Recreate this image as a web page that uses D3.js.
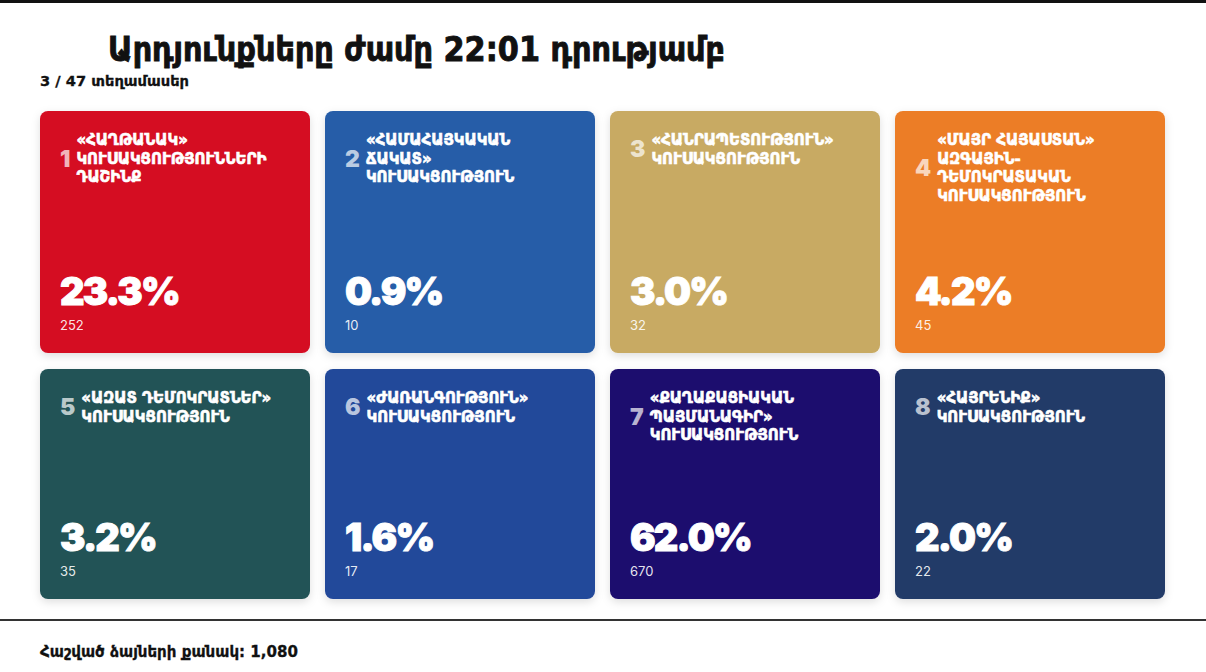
<html>
<head>
<meta charset="utf-8">
<script src="https://d3js.org/d3.v7.min.js"></script>
<style>
  body { margin: 0; background: #fff; }
  svg { display: block; }
</style>
</head>
<body>
<div id="chart"></div>
<script>
// ---- data ----
var headline = "Արդյունքները ժամը 22:01 դրությամբ"
var precinctsDone = 3
var precinctsAll = 47
var totalVotesLabel = "Հաշված ձայների քանակ:"
var totalVotes = 1080

var partyNumbers = [1, 2, 3, 4, 5, 6, 7, 8]
var partyNames = [
    ["«ՀԱՂԹԱՆԱԿ»", "ԿՈՒՍԱԿՑՈՒԹՅՈՒՆՆԵՐԻ", "ԴԱՇԻՆՔ"],
    ["«ՀԱՄԱՀԱՅԿԱԿԱՆ", "ՃԱԿԱՏ»", "ԿՈՒՍԱԿՑՈՒԹՅՈՒՆ"],
    ["«ՀԱՆՐԱՊԵՏՈՒԹՅՈՒՆ»", "ԿՈՒՍԱԿՑՈՒԹՅՈՒՆ"],
    ["«ՄԱՅՐ ՀԱՅԱՍՏԱՆ»", "ԱԶԳԱՅԻՆ-", "ԴԵՄՈԿՐԱՏԱԿԱՆ", "ԿՈՒՍԱԿՑՈՒԹՅՈՒՆ"],
    ["«ԱԶԱՏ ԴԵՄՈԿՐԱՏՆԵՐ»", "ԿՈՒՍԱԿՑՈՒԹՅՈՒՆ"],
    ["«ԺԱՌԱՆԳՈՒԹՅՈՒՆ»", "ԿՈՒՍԱԿՑՈՒԹՅՈՒՆ"],
    ["«ՔԱՂԱՔԱՑԻԱԿԱՆ", "ՊԱՅՄԱՆԱԳԻՐ»", "ԿՈՒՍԱԿՑՈՒԹՅՈՒՆ"],
    ["«ՀԱՅՐԵՆԻՔ»", "ԿՈՒՍԱԿՑՈՒԹՅՈՒՆ"]
]
var percents = [23.3, 0.9, 3.0, 4.2, 3.2, 1.6, 62.0, 2.0]
var votes = [252, 10, 32, 45, 35, 17, 670, 22]
var cardColors = ["#d50a24", "#285da8", "#c8aa63", "#ec7d26", "#235357", "#24489a", "#1e0b6e", "#213a68"]

// ---- layout ----
var W = 1206, H = 672
var armFont = "DejaVu Sans"
var svg = d3.select("#chart").append("svg")
    .attr("width", W)
    .attr("height", H)

var defs = svg.append("defs")
var shadow = defs.append("filter").attr("id", "shadow")
    .attr("x", "-10%").attr("y", "-10%").attr("width", "120%").attr("height", "125%")
shadow.append("feDropShadow")
    .attr("dx", 0).attr("dy", 3).attr("stdDeviation", 4)
    .attr("flood-color", "#000").attr("flood-opacity", 0.13)

var colScale = d3.scaleBand()
    .domain([0, 1, 2, 3])
    .range([40, 1165])
    .paddingInner(15 / 285)

var rowTop = d3.scaleOrdinal().domain([0, 1]).range([111, 369])
var rowBottom = d3.scaleOrdinal().domain([0, 1]).range([353, 599])

// top black strip
svg.append("rect")
    .attr("x", 0).attr("y", 0)
    .attr("width", W).attr("height", 3)
    .attr("fill", "#111")

// headline (condensed bold)
svg.append("text")
    .attr("x", 108).attr("y", 61)
    .attr("font-family", armFont)
    .attr("font-weight", 700)
    .attr("font-size", 33)
    .attr("textLength", 617)
    .attr("lengthAdjust", "spacingAndGlyphs")
    .attr("fill", "#111")
    .attr("stroke", "#111")
    .attr("stroke-width", 0.9)
    .text(headline)

svg.append("text")
    .attr("x", 40).attr("y", 86)
    .attr("font-family", armFont)
    .attr("font-weight", 700)
    .attr("font-size", 14)
    .attr("textLength", 149)
    .attr("lengthAdjust", "spacingAndGlyphs")
    .attr("fill", "#111")
    .attr("stroke", "#111")
    .attr("stroke-width", 0.3)
    .text(precinctsDone + " / " + precinctsAll + " տեղամասեր")

var cards = partyNumbers.map(function(n, i) {
    return { num: n, lines: partyNames[i], pct: percents[i], votes: votes[i], color: cardColors[i], col: i % 4, row: Math.floor(i / 4) }
})

var g = svg.selectAll("g.card")
    .data(cards)
    .enter()
    .append("g")
    .attr("class", "card")
    .attr("transform", function(d) {
        return "translate(" + colScale(d.col) + "," + rowTop(d.row) + ")"
    })

g.append("rect")
    .attr("width", colScale.bandwidth())
    .attr("height", function(d) { return rowBottom(d.row) - rowTop(d.row) })
    .attr("rx", 8)
    .attr("fill", function(d) { return d.color })
    .attr("filter", "url(#shadow)")

var lineH = 18.5
var firstBase = 34

g.each(function(d) {
    var card = d3.select(this)
    var numLabel = card.append("text")
        .attr("x", 20)
        .attr("y", firstBase - 10.7 + ((d.lines.length - 1) * lineH + 10.7) / 2 + 8.5)
        .attr("font-family", "Inter")
        .attr("font-weight", 900)
        .attr("font-size", 23)
        .attr("fill", "rgba(255,255,255,0.7)")
        .text(d.num)
    var numW = numLabel.node().getComputedTextLength()

    var tx = 20 + numW + 6
    var title = card.append("text")
        .attr("font-family", armFont)
        .attr("font-weight", 700)
        .attr("font-size", 15)
        .attr("fill", "#fff")
        .attr("stroke", "#fff")
        .attr("stroke-width", 0.6)
    title.selectAll("tspan")
        .data(d.lines)
        .enter()
        .append("tspan")
        .attr("x", tx)
        .attr("y", function(l, j) { return firstBase + j * lineH })
        .text(function(l) { return l })
    // keep long lines inside the card
    title.selectAll("tspan").each(function() {
        var room = colScale.bandwidth() - tx - 10
        if (this.getComputedTextLength() > room) {
            d3.select(this).attr("textLength", room).attr("lengthAdjust", "spacingAndGlyphs")
        }
    })

    var h = rowBottom(d.row) - rowTop(d.row)
    card.append("text")
        .attr("x", 20)
        .attr("y", h - 48)
        .attr("font-family", "Inter")
        .attr("font-weight", 900)
        .attr("font-size", 38)
        .attr("letter-spacing", -1.8)
        .attr("fill", "#fff")
        .attr("stroke", "#fff")
        .attr("stroke-width", 1)
        .text(d3.format(".1f")(d.pct) + "%")

    card.append("text")
        .attr("x", 20)
        .attr("y", h - 23)
        .attr("font-family", "Inter")
        .attr("font-size", 13)
        .attr("fill", "rgba(255,255,255,0.9)")
        .text(d.votes)
})

// footer
svg.append("line")
    .attr("x1", 0).attr("x2", W)
    .attr("y1", 620).attr("y2", 620)
    .attr("stroke", "#333")
    .attr("stroke-width", 2)

svg.append("text")
    .attr("x", 40).attr("y", 657)
    .attr("font-family", armFont)
    .attr("font-weight", 700)
    .attr("font-size", 15)
    .attr("textLength", 258)
    .attr("lengthAdjust", "spacingAndGlyphs")
    .attr("fill", "#111")
    .attr("stroke", "#111")
    .attr("stroke-width", 0.3)
    .text(totalVotesLabel + " " + d3.format(",")(totalVotes))
</script>
</body>
</html>
